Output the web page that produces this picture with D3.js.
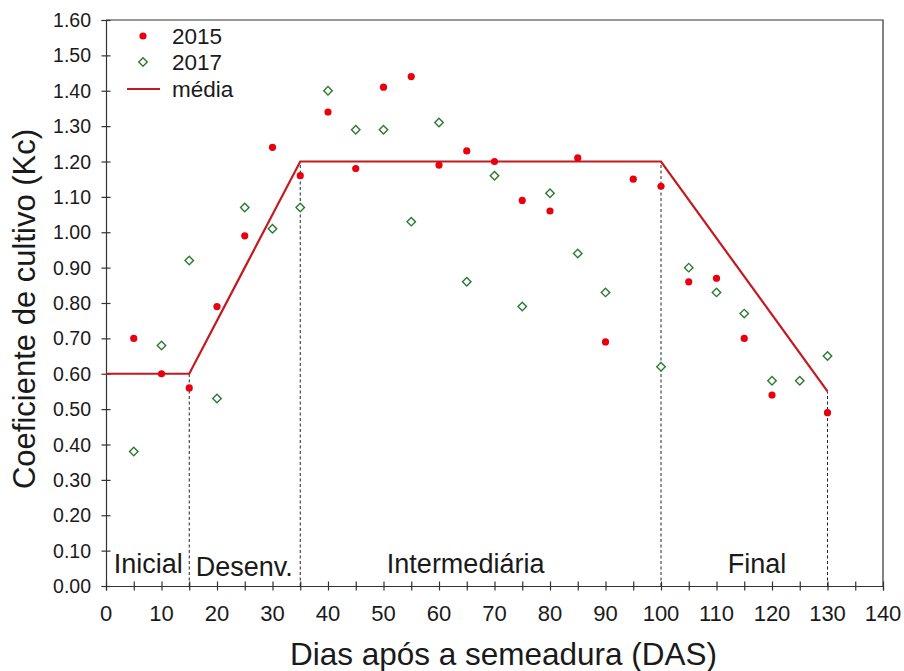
<!DOCTYPE html>
<html>
<head>
<meta charset="utf-8">
<script src="https://cdn.jsdelivr.net/npm/d3@7"></script>
<style>
  body { margin: 0; background: #fff; }
  text { font-family: "Liberation Sans", Arial, sans-serif; fill: #1a1a1a; }
</style>
</head>
<body>
<div id="chart"></div>
<script>
// Kc observations per sowing day
const days2015 = [5, 10, 15, 20, 25, 30, 35, 40, 45, 50, 55, 60, 65, 70, 75, 80, 85, 90, 95, 100, 105, 110, 115, 120, 130];
const kc2015 = [0.70, 0.60, 0.56, 0.79, 0.99, 1.24, 1.16, 1.34, 1.18, 1.41, 1.44, 1.19, 1.23, 1.20, 1.09, 1.06, 1.21, 0.69, 1.15, 1.13, 0.86, 0.87, 0.70, 0.54, 0.49];

const days2017 = [5, 10, 15, 20, 25, 30, 35, 40, 45, 50, 55, 60, 65, 70, 75, 80, 85, 90, 100, 105, 110, 115, 120, 125, 130];
const kc2017 = [0.38, 0.68, 0.92, 0.53, 1.07, 1.01, 1.07, 1.40, 1.29, 1.29, 1.03, 1.31, 0.86, 1.16, 0.79, 1.11, 0.94, 0.83, 0.62, 0.90, 0.83, 0.77, 0.58, 0.58, 0.65];

// mean (média) curve
const mediaDays = [0, 15, 25, 35, 100, 130];
const mediaKc = [0.60, 0.60, 0.90, 1.20, 1.20, 0.55];

// phase boundaries and labels
const boundaryDays = [15, 35, 100, 130];
const boundaryKc = [0.60, 1.20, 1.20, 0.55];
const phaseNames = ["Inicial", "Desenv.", "Intermediária", "Final"];
const phaseCenters = [7.6, 24.9, 64.8, 117.3];

const xTicks = d3.range(0, 141, 10);
const xMinorTicks = d3.range(0, 141, 5);
const yTicks = d3.range(0, 1.61, 0.1);

const legendItems = ["2015", "2017", "média"];

const width = 904, height = 671;
const margin = { top: 20, right: 21, bottom: 85, left: 106 };

const x = d3.scaleLinear().domain([0, 140]).range([margin.left, width - margin.right]);
const y = d3.scaleLinear().domain([0, 1.6]).range([height - margin.bottom, margin.top]);

const svg = d3.select("#chart")
  .append("svg")
  .attr("width", width)
  .attr("height", height)
  .attr("viewBox", [0, 0, width, height]);

const axisColor = "#333";

// frame (top and right)
svg.append("path")
  .attr("fill", "none")
  .attr("stroke", axisColor)
  .attr("stroke-width", 1.2)
  .attr("d", `M${x(0)},${y(1.6)}H${x(140)}V${y(0)}`);

// x axis
const xAxis = svg.append("g")
  .attr("transform", `translate(0,${y(0)})`)
  .call(d3.axisBottom(x).tickValues(xMinorTicks).tickSize(4.5).tickFormat(""));
xAxis.select(".domain").attr("stroke", axisColor).attr("stroke-width", 1.2);
xAxis.selectAll(".tick line").attr("stroke", axisColor).attr("y1", -4.5).attr("stroke-width", 1.2);

svg.append("g")
  .selectAll("text")
  .data(xTicks)
  .join("text")
  .attr("x", d => x(d))
  .attr("y", y(0) + 35)
  .attr("text-anchor", "middle")
  .style("font-size", "22px")
  .text(d => d);

// y axis
const yAxis = svg.append("g")
  .attr("transform", `translate(${x(0)},0)`)
  .call(d3.axisLeft(y).tickValues(yTicks).tickSize(4.5).tickFormat(""));
yAxis.select(".domain").attr("stroke", axisColor).attr("stroke-width", 1.2);
yAxis.selectAll(".tick line").attr("stroke", axisColor).attr("x1", 4.5).attr("stroke-width", 1.2);

svg.append("g")
  .selectAll("text")
  .data(yTicks)
  .join("text")
  .attr("x", x(0) - 15)
  .attr("y", d => y(d))
  .attr("dy", "0.36em")
  .attr("text-anchor", "end")
  .style("font-size", "19.5px")
  .text(d => d3.format(".2f")(d));

// axis titles
svg.append("text")
  .attr("x", (x(0) + x(140)) / 2 + 9)
  .attr("y", 665)
  .attr("text-anchor", "middle")
  .style("font-size", "31.5px")
  .text("Dias após a semeadura (DAS)");

svg.append("text")
  .attr("transform", `translate(35,${(y(0) + y(1.6)) / 2 + 6}) rotate(-90)`)
  .attr("text-anchor", "middle")
  .style("font-size", "31px")
  .text("Coeficiente de cultivo (Kc)");

// dashed phase boundaries
svg.append("g")
  .selectAll("line")
  .data(boundaryDays)
  .join("line")
  .attr("x1", d => x(d))
  .attr("x2", d => x(d))
  .attr("y1", y(0))
  .attr("y2", (d, i) => y(boundaryKc[i]))
  .attr("stroke", "#222")
  .attr("stroke-width", 1)
  .attr("stroke-dasharray", "3,2.5");

// phase labels
svg.append("g")
  .selectAll("text")
  .data(phaseNames)
  .join("text")
  .attr("x", (d, i) => x(phaseCenters[i]))
  .attr("y", (d, i) => i === 1 ? 576 : 573)
  .attr("text-anchor", "middle")
  .style("font-size", "27px")
  .text(d => d);

// média line
const lineColor = "#c41a1f";
const mediaPoints = mediaDays.map((d, i) => [d, mediaKc[i]]);
svg.append("path")
  .datum(mediaPoints)
  .attr("fill", "none")
  .attr("stroke", lineColor)
  .attr("stroke-width", 2.2)
  .attr("d", d3.line().x(d => x(d[0])).y(d => y(d[1])));

// 2017 diamonds
const greenColor = "#2a7a2f";
const diamond = d3.symbol().type(d3.symbolSquare).size(36);
svg.append("g")
  .selectAll("path")
  .data(days2017.map((d, i) => [d, kc2017[i]]))
  .join("path")
  .attr("transform", d => `translate(${x(d[0])},${y(d[1])}) rotate(45)`)
  .attr("d", diamond)
  .attr("fill", "#fff")
  .attr("stroke", greenColor)
  .attr("stroke-width", 1.4);

// 2015 dots
const redColor = "#e8000e";
svg.append("g")
  .selectAll("circle")
  .data(days2015.map((d, i) => [d, kc2015[i]]))
  .join("circle")
  .attr("cx", d => x(d[0]))
  .attr("cy", d => y(d[1]))
  .attr("r", 3.6)
  .attr("fill", redColor);

// legend
const legend = svg.append("g");
const legendY = [36, 62, 89];
legend.selectAll("text")
  .data(legendItems)
  .join("text")
  .attr("x", 172)
  .attr("y", (d, i) => legendY[i])
  .attr("dy", "0.36em")
  .style("font-size", "22.5px")
  .text(d => d);

legend.append("circle")
  .attr("cx", 143).attr("cy", legendY[0]).attr("r", 3.6)
  .attr("fill", redColor);
legend.append("path")
  .attr("transform", `translate(143,${legendY[1]}) rotate(45)`)
  .attr("d", diamond)
  .attr("fill", "#fff")
  .attr("stroke", greenColor)
  .attr("stroke-width", 1.4);
legend.append("line")
  .attr("x1", 127).attr("x2", 160)
  .attr("y1", legendY[2]).attr("y2", legendY[2])
  .attr("stroke", lineColor)
  .attr("stroke-width", 2.2);
</script>
</body>
</html>
